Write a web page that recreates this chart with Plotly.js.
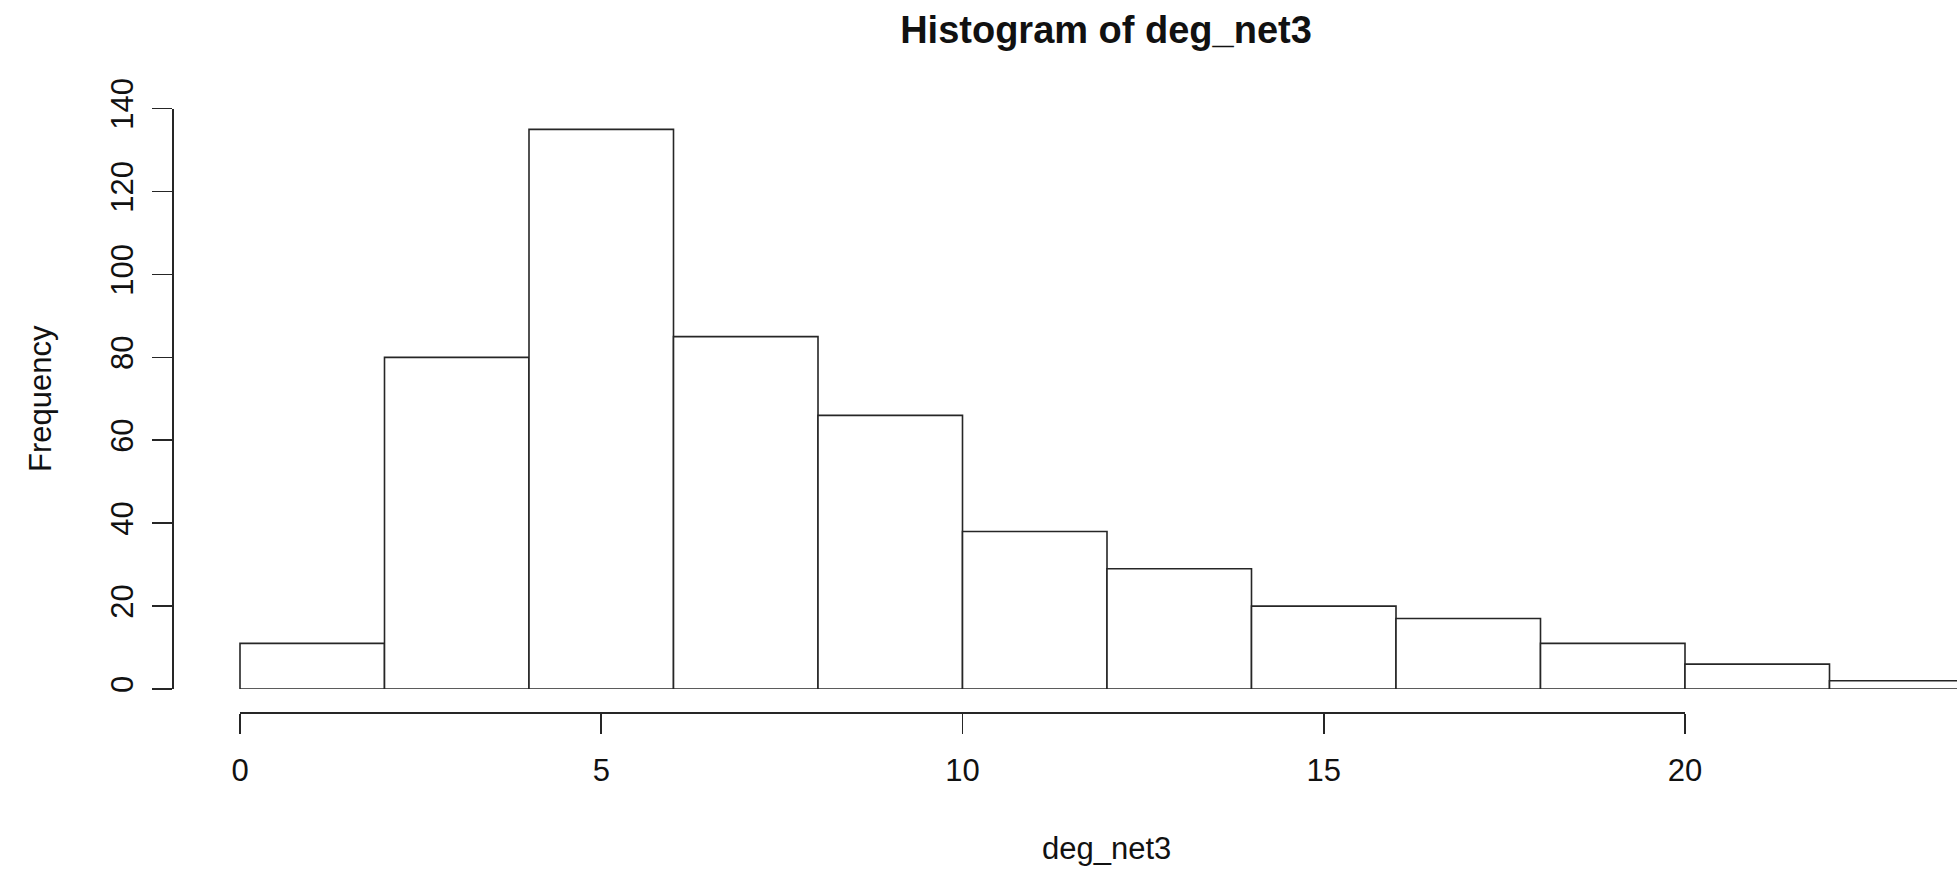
<!DOCTYPE html>
<html>
<head>
<meta charset="utf-8">
<script src="https://cdn.plot.ly/plotly-3.0.1.min.js"></script>
<style>
  html, body { margin: 0; padding: 0; background: #ffffff; }
  #chart { width: 1957px; height: 869px; }
</style>
</head>
<body>
<div id="chart"></div>
<script>
// ---- data ----
const binStarts = [0, 2, 4, 6, 8, 10, 12, 14, 16, 18, 20, 22];
const counts    = [11, 80, 135, 85, 66, 38, 29, 20, 17, 11, 6, 2];
const binWidth  = 2;
const xTickVals = [0, 5, 10, 15, 20];
const yTickVals = [0, 20, 40, 60, 80, 100, 120, 140];
const titleText = "Histogram of deg_net3";
const xLabel = "deg_net3";
const yLabel = "Frequency";

// ---- layout geometry (pixels) ----
const W = 1957, H = 869;
const axisBottomPx = 712;        // x axis line
const x0Px = 240, x20Px = 1685;  // x = 0 and x = 20
const pxPerUnit = (x20Px - x0Px) / 20;
const yZeroPx = 689, yTopPx = 108.6; // y = 0 and y = 140
const yAxisPx = 172;
const plotH = axisBottomPx;      // paper height (margin.t = 0)

const font = "Liberation Sans, Arial, Helvetica, sans-serif";
const ink = "#262626";
const labelSize = 31;

const barX = binStarts.map(s => s + binWidth / 2);

const traces = [
  {
    type: "bar",
    x: barX,
    y: counts,
    width: binStarts.map(() => binWidth),
    xaxis: "x2",
    yaxis: "y",
    marker: { color: "#ffffff", line: { color: ink, width: 1.6 } },
    hoverinfo: "x+y",
    showlegend: false
  },
  {
    type: "scatter",
    mode: "markers",
    x: [],
    y: [],
    xaxis: "x",
    yaxis: "y",
    showlegend: false,
    hoverinfo: "skip"
  }
];

const layout = {
  width: W,
  height: H,
  margin: { l: 0, r: 0, t: 0, b: H - axisBottomPx, pad: 0 },
  paper_bgcolor: "#ffffff",
  plot_bgcolor: "rgba(0,0,0,0)",
  showlegend: false,
  font: { family: font, color: "#111", size: labelSize },
  title: {
    text: "<b>" + titleText + "</b>",
    font: { family: font, size: 38, color: "#111" },
    x: 1106 / W,
    xref: "container",
    xanchor: "center",
    y: 1 - 30 / H,
    yref: "container",
    yanchor: "middle"
  },
  xaxis: {
    domain: [x0Px / W, x20Px / W],
    range: [0, 20],
    anchor: "free",
    position: 0,
    showline: true,
    linecolor: ink,
    linewidth: 1.6,
    ticks: "outside",
    ticklen: 20,
    tickwidth: 1.6,
    tickcolor: ink,
    tickmode: "array",
    tickvals: xTickVals,
    ticktext: xTickVals.map(String),
    tickfont: { family: font, size: labelSize, color: "#111" },
    ticklabelstandoff: 10,
    showgrid: false,
    zeroline: false,
    fixedrange: true
  },
  xaxis2: {
    domain: [0, 1],
    range: [(0 - x0Px) / pxPerUnit, (W - x0Px) / pxPerUnit],
    anchor: "y",
    visible: false,
    showgrid: false,
    zeroline: false,
    fixedrange: true
  },
  yaxis: {
    domain: [(plotH - yZeroPx) / plotH, (plotH - yTopPx) / plotH],
    range: [0, 140],
    anchor: "free",
    position: yAxisPx / W,
    showline: true,
    linecolor: ink,
    linewidth: 1.6,
    ticks: "outside",
    ticklen: 20,
    tickwidth: 1.6,
    tickcolor: ink,
    tickmode: "array",
    tickvals: yTickVals,
    ticktext: yTickVals.map(String),
    tickangle: -90,
    tickfont: { family: font, size: labelSize, color: "#111" },
    ticklabelstandoff: 7,
    showgrid: false,
    zeroline: false,
    fixedrange: true,
    title: {
      text: yLabel,
      font: { family: font, size: labelSize, color: "#111" },
      standoff: 42
    }
  },
  annotations: [
    {
      text: xLabel,
      xref: "paper",
      yref: "paper",
      x: 1106 / W,
      y: (plotH - 848) / plotH,
      xanchor: "center",
      yanchor: "middle",
      showarrow: false,
      font: { family: font, size: labelSize, color: "#111" }
    }
  ]
};

Plotly.newPlot("chart", traces, layout, { displayModeBar: false, staticPlot: true });
</script>
</body>
</html>
